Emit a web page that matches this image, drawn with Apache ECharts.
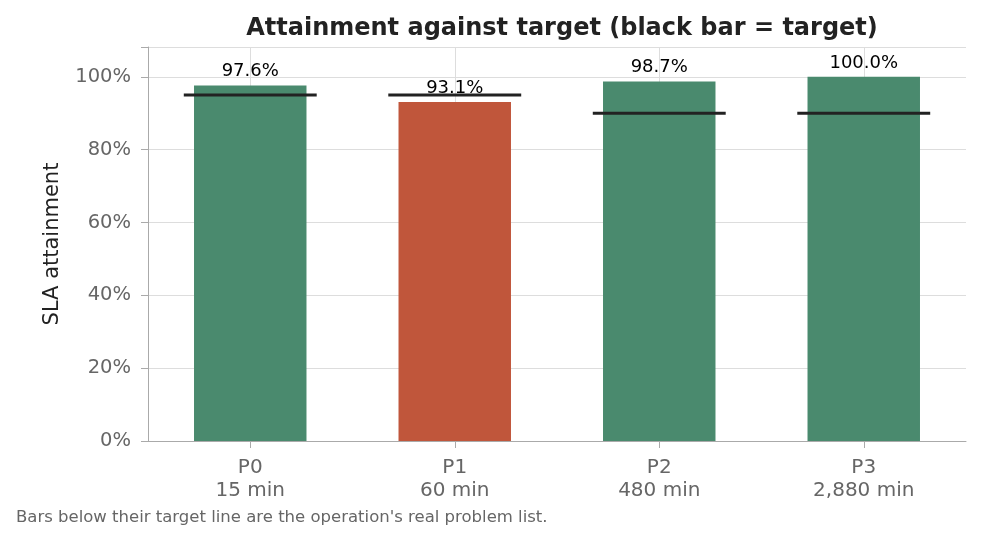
<!DOCTYPE html>
<html>
<head>
<meta charset="utf-8">
<script src="https://cdn.jsdelivr.net/npm/echarts@6/dist/echarts.min.js"></script>
<style>html,body{margin:0;padding:0;background:#fff}#c{width:982px;height:543px}</style>
</head>
<body>
<div id="c"></div>
<script>
const categories = ['P0\n15 min', 'P1\n60 min', 'P2\n480 min', 'P3\n2,880 min'];
const attainment = [97.6, 93.1, 98.7, 100.0];
const targets = [95, 95, 90, 90];
const yTicks = [0, 20, 40, 60, 80, 100];

const GREEN = '#4a8a6e', RED = '#c0563b';
const FONT = 'DejaVu Sans';

const chart = echarts.init(document.getElementById('c'), null, {renderer: 'canvas'});
chart.setOption({
  animation: false,
  textStyle: {fontFamily: FONT},
  title: {
    text: 'Attainment against target (black bar = target)',
    left: 557, top: 12, textAlign: 'center',
    textStyle: {fontFamily: FONT, fontSize: 24, fontWeight: 'bold', color: '#222'}
  },
  grid: {left: 148, right: 16, top: 47, bottom: 102},
  xAxis: {
    type: 'category', data: categories,
    axisLine: {lineStyle: {color: '#aaa', width: 1}},
    axisTick: {show: true, alignWithLabel: true, length: 7, lineStyle: {color: '#aaa'}},
    axisLabel: {color: '#666', fontSize: 20, lineHeight: 23, margin: 15, fontFamily: FONT},
    splitLine: {show: false}
  },
  yAxis: {
    type: 'value', min: 0, max: 108.2, interval: 20,
    name: 'SLA attainment', nameLocation: 'middle', nameGap: 85,
    nameTextStyle: {color: '#222', fontSize: 21, fontFamily: FONT},
    axisLine: {show: true, lineStyle: {color: '#aaa', width: 1}},
    axisTick: {show: true, length: 7, lineStyle: {color: '#aaa'}},
    axisLabel: {color: '#666', fontSize: 19.5, margin: 17, fontFamily: FONT,
      formatter: v => yTicks.includes(v) ? v + '%' : ''},
    splitLine: {show: true, lineStyle: {color: '#ddd', width: 1}}
  },
  series: [
    {
      type: 'bar', name: 'Attainment', z: 3,
      data: attainment.map((v, i) => ({value: v, itemStyle: {color: v < targets[i] ? RED : GREEN}})),
      barWidth: '55%',
      label: {show: true, position: 'top', distance: 5, color: '#000', fontSize: 18, fontFamily: FONT,
        formatter: p => p.value.toFixed(1) + '%'},
      markLine: {
        silent: true, symbol: 'none', z: 1, label: {show: false},
        lineStyle: {color: '#ddd', width: 1, type: 'solid'},
        data: categories.map(c => ({xAxis: c}))
      }
    },
    {
      type: 'custom', name: 'Target', z: 5,
      data: targets.map((t, i) => [i, t]),
      renderItem: (params, api) => {
        const p = api.coord([api.value(0), api.value(1)]);
        const half = api.size([1, 0])[0] * 0.325;
        return {type: 'line', shape: {x1: p[0] - half, y1: p[1], x2: p[0] + half, y2: p[1]},
          style: {stroke: '#222', lineWidth: 3}};
      }
    }
  ],
  graphic: [{
    type: 'text', left: 16, top: 509,
    style: {text: "Bars below their target line are the operation's real problem list.",
      fill: '#666', fontSize: 16.5, fontFamily: FONT}
  }]
});
</script>
</body>
</html>
